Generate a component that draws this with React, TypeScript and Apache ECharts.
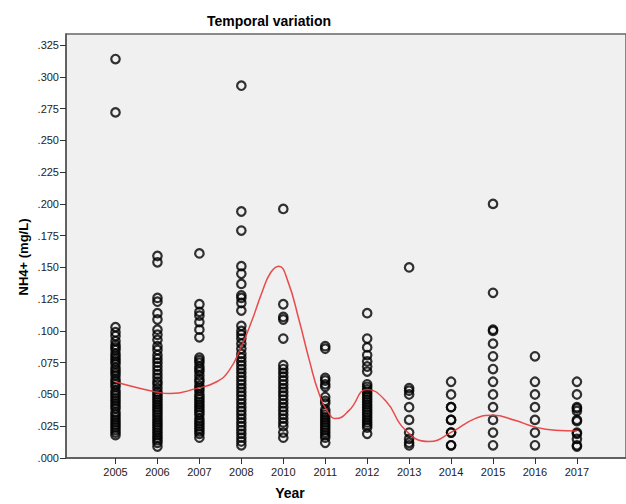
import React, { useEffect, useRef } from "react";
import * as echarts from "echarts";

const years = ["2005", "2006", "2007", "2008", "2010", "2011", "2012", "2013", "2014", "2015", "2016", "2017"];

const v2005 = [0.314, 0.272, 0.103, 0.099, 0.096, 0.092, 0.089, 0.087, 0.085, 0.082, 0.08, 0.078, 0.076, 0.074, 0.071, 0.069, 0.067, 0.065, 0.062, 0.06, 0.058, 0.056, 0.053, 0.051, 0.049, 0.047, 0.045, 0.043, 0.041, 0.039, 0.036, 0.034, 0.032, 0.03, 0.028, 0.026, 0.024, 0.022, 0.02, 0.018];
const v2006 = [0.159, 0.154, 0.126, 0.123, 0.114, 0.109, 0.101, 0.097, 0.093, 0.088, 0.085, 0.081, 0.078, 0.075, 0.072, 0.069, 0.066, 0.063, 0.06, 0.058, 0.055, 0.052, 0.05, 0.048, 0.046, 0.044, 0.042, 0.04, 0.038, 0.036, 0.034, 0.032, 0.03, 0.028, 0.026, 0.024, 0.022, 0.02, 0.018, 0.016, 0.014, 0.012, 0.009];
const v2007 = [0.161, 0.121, 0.115, 0.112, 0.107, 0.101, 0.095, 0.079, 0.077, 0.075, 0.072, 0.07, 0.068, 0.065, 0.062, 0.06, 0.057, 0.055, 0.053, 0.05, 0.048, 0.046, 0.044, 0.042, 0.04, 0.038, 0.036, 0.034, 0.031, 0.029, 0.027, 0.025, 0.023, 0.021, 0.019, 0.016];
const v2008 = [0.293, 0.194, 0.179, 0.151, 0.145, 0.137, 0.128, 0.126, 0.122, 0.116, 0.104, 0.1, 0.097, 0.094, 0.09, 0.086, 0.082, 0.079, 0.076, 0.073, 0.07, 0.067, 0.064, 0.061, 0.058, 0.055, 0.052, 0.049, 0.046, 0.043, 0.04, 0.037, 0.034, 0.031, 0.028, 0.025, 0.022, 0.019, 0.016, 0.013, 0.01];
const v2010 = [0.196, 0.121, 0.111, 0.109, 0.094, 0.073, 0.07, 0.067, 0.064, 0.061, 0.058, 0.055, 0.052, 0.049, 0.046, 0.043, 0.04, 0.037, 0.034, 0.031, 0.028, 0.025, 0.02, 0.016];
const v2011 = [0.088, 0.086, 0.063, 0.061, 0.058, 0.056, 0.048, 0.045, 0.043, 0.038, 0.036, 0.034, 0.032, 0.03, 0.028, 0.026, 0.024, 0.022, 0.02, 0.018, 0.016, 0.012];
const v2012 = [0.114, 0.094, 0.087, 0.081, 0.076, 0.072, 0.068, 0.058, 0.056, 0.054, 0.052, 0.05, 0.048, 0.046, 0.044, 0.042, 0.04, 0.038, 0.036, 0.034, 0.032, 0.03, 0.028, 0.026, 0.024, 0.019];
const v2013 = [0.15, 0.055, 0.053, 0.05, 0.04, 0.03, 0.02, 0.015, 0.012, 0.01];
const v2014 = [0.06, 0.05, 0.04, 0.04, 0.03, 0.03, 0.02, 0.02, 0.01, 0.01];
const v2015 = [0.2, 0.13, 0.101, 0.1, 0.09, 0.08, 0.07, 0.06, 0.05, 0.04, 0.03, 0.02, 0.01];
const v2016 = [0.08, 0.06, 0.05, 0.04, 0.03, 0.02, 0.01];
const v2017 = [0.06, 0.05, 0.04, 0.039, 0.037, 0.03, 0.029, 0.02, 0.019, 0.015, 0.01, 0.009];

const yearValues = [v2005, v2006, v2007, v2008, v2010, v2011, v2012, v2013, v2014, v2015, v2016, v2017];

// Fit line: position along year axis, value
const fitX = [0, 0.5, 0.97, 1.3, 1.92, 2.4, 2.71, 2.99, 3.25, 3.5, 3.7, 3.89, 4.1, 4.38, 4.62, 4.85, 5.09, 5.25, 5.57, 6.0, 6.44, 6.91, 7.47, 8.02, 8.57, 8.99, 9.52, 10.0, 10.48, 11.0];
const fitY = [0.0598, 0.0555, 0.052, 0.0507, 0.0546, 0.0598, 0.069, 0.087, 0.108, 0.131, 0.146, 0.151, 0.14, 0.108, 0.077, 0.051, 0.035, 0.031, 0.0375, 0.054, 0.045, 0.022, 0.013, 0.0205, 0.031, 0.0336, 0.0297, 0.0244, 0.0218, 0.0212];

const yTicks = [0, 0.025, 0.05, 0.075, 0.1, 0.125, 0.15, 0.175, 0.2, 0.225, 0.25, 0.275, 0.3, 0.325];
const xTicks = [0, 1, 2, 3, 4, 5, 6, 7, 8, 9, 10, 11];

const FONT = "'Liberation Sans', Arial, sans-serif";

export default function App() {
  const ref = useRef<HTMLDivElement>(null);
  useEffect(() => {
    if (!ref.current) return;
    const chart = echarts.init(ref.current, null, { renderer: "svg" });
    const scatterData: number[][] = [];
    yearValues.forEach((arr, i) => arr.forEach((v) => scatterData.push([i, v])));
    const fitData = fitX.map((x, i) => [x, fitY[i]]);
    chart.setOption({
      animation: false,
      backgroundColor: "#ffffff",
      title: {
        text: "Temporal variation",
        left: 264,
        top: 9,
        textAlign: "center",
        textStyle: { fontFamily: FONT, fontSize: 14, fontWeight: "bold", color: "#000" },
      },
      grid: {
        left: 66,
        top: 34,
        right: -2,
        bottom: 46,
        show: true,
        backgroundColor: "#f0f0f0",
        borderColor: "#666",
        borderWidth: 1.5,
      },
      xAxis: {
        type: "value",
        min: -1.18,
        max: 12.17,
        splitLine: { show: false },
        axisLine: { show: true, onZero: false, lineStyle: { color: "#555", width: 1.5 } },
        axisTick: { show: true, length: 6, lineStyle: { color: "#333" }, customValues: xTicks },
        axisLabel: {
          customValues: xTicks,
          formatter: (v: number) => years[Math.round(v)] ?? "",
          fontFamily: FONT,
          fontSize: 11,
          color: "#222",
          margin: 8,
        },
      },
      yAxis: {
        type: "value",
        min: 0,
        max: 0.3337,
        splitLine: { show: false },
        axisLine: { show: true, onZero: false, lineStyle: { color: "#555", width: 1.5 } },
        axisTick: { show: true, length: 6, lineStyle: { color: "#333" }, customValues: yTicks },
        axisLabel: {
          customValues: yTicks,
          formatter: (v: number) => v.toFixed(3).replace(/^0/, ""),
          fontFamily: FONT,
          fontSize: 11,
          color: "#222",
          margin: 7,
        },
      },
      graphic: [
        {
          type: "text",
          x: 290,
          y: 493,
          style: {
            text: "Year",
            fontFamily: FONT,
            fontSize: 14,
            fontWeight: "bold",
            fill: "#000",
            align: "center",
            verticalAlign: "middle",
          },
        },
        {
          type: "text",
          x: 23,
          y: 257,
          rotation: Math.PI / 2,
          style: {
            text: "NH4+ (mg/L)",
            fontFamily: FONT,
            fontSize: 13,
            fontWeight: "bold",
            fill: "#000",
            align: "center",
            verticalAlign: "middle",
          },
        },
      ],
      series: [
        {
          type: "scatter",
          data: scatterData,
          symbol: "circle",
          symbolSize: 8.5,
          itemStyle: { color: "rgba(0,0,0,0)", borderColor: "#000", borderWidth: 2.2 },
          z: 2,
        },
        {
          type: "line",
          data: fitData,
          smooth: true,
          showSymbol: false,
          symbol: "none",
          lineStyle: { color: "#e8383a", width: 1.5, opacity: 0.9 },
          z: 3,
        },
      ],
    });
    return () => chart.dispose();
  }, []);
  return (
    <div
      ref={ref}
      style={{ position: "fixed", left: 0, top: 0, width: 626, height: 504 }}
    />
  );
}
